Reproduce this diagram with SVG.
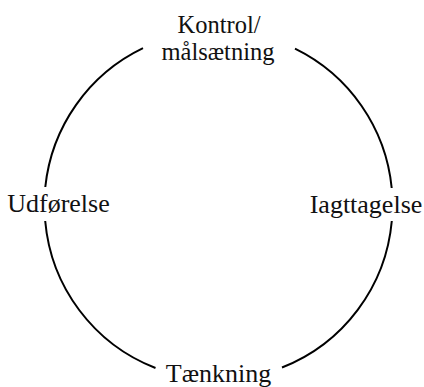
<svg xmlns="http://www.w3.org/2000/svg" width="424" height="387" viewBox="0 0 424 387">
<style>
.lbl{font-family:"Liberation Serif","Times New Roman",serif;font-size:26px;fill:#111;text-anchor:middle}
.top{font-size:24.5px}
.arc{fill:none;stroke:#000;stroke-width:2}
</style>
<rect width="424" height="387" fill="#fff"/>
<g id="connectors">
<path class="arc" d="M295,48.7 A174,174 0 0 1 391.7,188"/>
<path class="arc" d="M391.8,221 A174,174 0 0 1 282,367.5"/>
<path class="arc" d="M155.5,368 A174,174 0 0 1 45.2,221"/>
<path class="arc" d="M45.3,187 A174,174 0 0 1 143,48.2"/>
</g>
<g id="kontrol"><text class="lbl top" x="219" y="33">Kontrol/</text><text class="lbl top" x="218" y="60.4">målsætning</text></g>
<g id="iagttagelse"><text class="lbl" x="366" y="212.5">Iagttagelse</text></g>
<g id="taenkning"><text class="lbl" x="218.5" y="381.5">Tænkning</text></g>
<g id="udfoerelse"><text class="lbl" x="58.5" y="212">Udførelse</text></g>
</svg>
